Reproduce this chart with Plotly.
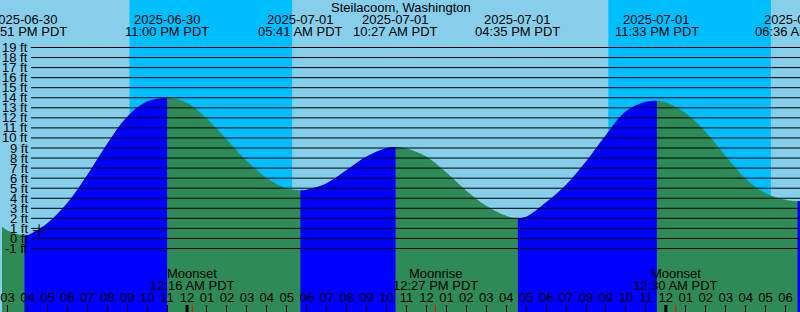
import plotly.graph_objects as go
from datetime import datetime

# ---------------- data ----------------
title_text = "Steilacoom, Washington"

hourly_times = (
    [f"2025-06-30 {h:02d}:00" for h in range(14, 24)]
    + [f"2025-07-01 {h:02d}:00" for h in range(0, 24)]
    + [f"2025-07-02 {h:02d}:00" for h in range(0, 8)]
)
hourly_heights = [
    2.4, 0.8, 0.32, 1.52, 3.52, 6.32, 9.42, 12.12, 13.62, 14.0,
    13.5, 11.9, 9.8, 7.7, 6.0, 5.0, 4.85, 5.5, 6.8, 8.15, 9.0, 8.95,
    8.15, 6.55, 4.75, 3.25, 2.25, 2.15, 3.6, 5.35, 7.65, 10.3, 12.65, 13.6,
    13.55, 12.45, 10.6, 8.2, 5.95, 4.5, 3.85, 3.75,
]

extreme_times = ["2025-06-30 15:51", "2025-06-30 23:00", "2025-07-01 05:41",
                 "2025-07-01 10:27", "2025-07-01 16:35", "2025-07-01 23:33",
                 "2025-07-02 06:36"]
extreme_heights = [0.3, 14.0, 4.8, 9.1, 2.0, 13.7, 3.7]
extreme_dates = ["2025-06-30", "2025-06-30", "2025-07-01", "2025-07-01",
                 "2025-07-01", "2025-07-01", "2025-07-02"]
extreme_labels = ["03:51 PM PDT", "11:00 PM PDT", "05:41 AM PDT", "10:27 AM PDT",
                  "04:35 PM PDT", "11:33 PM PDT", "06:36 AM PDT"]
extreme_kinds = ["low", "high", "low", "high", "low", "high", "low"]

night_starts = ["2025-06-30 21:07", "2025-07-01 21:07"]
night_ends = ["2025-07-01 05:16", "2025-07-02 05:16"]

moon_times = ["2025-07-01 00:16", "2025-07-01 12:27", "2025-07-02 00:30"]
moon_events = ["Moonset", "Moonrise", "Moonset"]
moon_labels = ["12:16 AM PDT", "12:27 PM PDT", "12:30 AM PDT"]

midnights = ["2025-07-01 00:00", "2025-07-02 00:00"]

grid_levels = list(range(-1, 20))
grid_labels = [f"{v} ft" for v in grid_levels]

mark_time = "2025-06-30 16:35"
mark_height = 0.77

x_range = ["2025-06-30 14:43:30", "2025-07-02 06:43:30"]
y_range = [-7.3184, 23.7264]

# ---------------- colours ----------------
DAY = "#87CEEB"
NIGHT = "#00BFFF"
FLOOD = "#0000FF"
EBB = "#2E8B57"
FONT = dict(family="Liberation Sans, Arial, sans-serif", size=13, color="black")
H = 312.0


def py(px):
    return 1 - px / H


def dt(s):
    return datetime.strptime(s, "%Y-%m-%d %H:%M")


# merge hourly and extreme points
pts = {dt(t): v for t, v in zip(hourly_times, hourly_heights)}
for t, v in zip(extreme_times, extreme_heights):
    pts[dt(t)] = v
times = sorted(pts)
heights = [pts[t] for t in times]
ext_dt = [dt(t) for t in extreme_times]

fig = go.Figure()

# full ebb (green) fill under the curve
fig.add_trace(go.Scatter(x=[times[0], times[-1]], y=[-10, -10], mode="lines",
                         line=dict(width=0), hoverinfo="skip", showlegend=False))
fig.add_trace(go.Scatter(x=times, y=heights, mode="lines", fill="tonexty",
                         fillcolor=EBB, line=dict(width=0, shape="spline", smoothing=1),
                         hoverinfo="skip", showlegend=False))

# rising (flood) segments in blue: from each low to the following high
bounds = ext_dt + [times[-1]]
for i, kind in enumerate(extreme_kinds):
    if kind != "low":
        continue
    a, b = bounds[i], bounds[i + 1]
    seg_t = [t for t in times if a <= t <= b]
    seg_h = [pts[t] for t in seg_t]
    fig.add_trace(go.Scatter(x=[a, b], y=[-10, -10], mode="lines",
                             line=dict(width=0), hoverinfo="skip", showlegend=False))
    fig.add_trace(go.Scatter(x=seg_t, y=seg_h, mode="lines", fill="tonexty",
                             fillcolor=FLOOD, line=dict(width=0, shape="spline", smoothing=1),
                             hoverinfo="skip", showlegend=False))

# mark
fig.add_trace(go.Scatter(x=[dt(mark_time)], y=[mark_height], mode="markers",
                         marker=dict(symbol="cross-thin", size=9,
                                     line=dict(width=1, color="black")),
                         hoverinfo="skip", showlegend=False))

shapes = []
for s, e in zip(night_starts, night_ends):
    shapes.append(dict(type="rect", xref="x", yref="paper", x0=dt(s), x1=dt(e),
                       y0=0, y1=1, fillcolor=NIGHT, line=dict(width=0), layer="below"))
for v in grid_levels:
    shapes.append(dict(type="line", xref="paper", yref="y", x0=29 / 800, x1=1,
                       y0=v, y1=v, line=dict(color="black", width=1), layer="above"))
for m in midnights:
    shapes.append(dict(type="line", xref="x", yref="paper", x0=dt(m), x1=dt(m),
                       y0=0, y1=7 / H, line=dict(color="black", width=3), layer="above"))
for m in moon_times:
    shapes.append(dict(type="line", xref="x", yref="paper", x0=dt(m), x1=dt(m),
                       y0=0, y1=7 / H, line=dict(color="red", width=1), layer="above"))

ann = []
ann.append(dict(text=title_text, xref="paper", yref="paper", x=0.5, y=py(7),
                xanchor="center", yanchor="middle", showarrow=False, font=FONT))
for t, d, lab in zip(extreme_times, extreme_dates, extreme_labels):
    ann.append(dict(text=d, xref="x", yref="paper", x=dt(t), y=py(19.5),
                    xanchor="center", yanchor="middle", showarrow=False, font=FONT))
    ann.append(dict(text=lab, xref="x", yref="paper", x=dt(t), y=py(31.5),
                    xanchor="center", yanchor="middle", showarrow=False, font=FONT))
for t, ev, lab in zip(moon_times, moon_events, moon_labels):
    ann.append(dict(text=ev, xref="x", yref="paper", x=dt(t), y=py(273.5),
                    xanchor="center", yanchor="middle", showarrow=False, font=FONT))
    ann.append(dict(text=lab, xref="x", yref="paper", x=dt(t), y=py(285.5),
                    xanchor="center", yanchor="middle", showarrow=False, font=FONT))
for v, lab in zip(grid_levels, grid_labels):
    ann.append(dict(text=lab, xref="paper", yref="y", x=28 / 800, y=v,
                    xanchor="right", yanchor="middle", showarrow=False, font=FONT))

fig.update_layout(
    width=800, height=312,
    margin=dict(l=0, r=0, t=0, b=0, pad=0),
    paper_bgcolor=DAY, plot_bgcolor=DAY,
    shapes=shapes, annotations=ann, showlegend=False,
    xaxis=dict(type="date", range=x_range, showgrid=False, zeroline=False,
               showline=False, ticks="inside", ticklen=7, tickwidth=1,
               tickcolor="black", dtick=3600000, tick0="2025-06-30 00:00",
               tickformat="%I", ticklabelposition="inside",
               ticklabeloverflow="allow", tickfont=FONT, fixedrange=True),
    yaxis=dict(range=y_range, visible=False, fixedrange=True),
)

fig.write_html("out.html", config={"displayModeBar": False})
